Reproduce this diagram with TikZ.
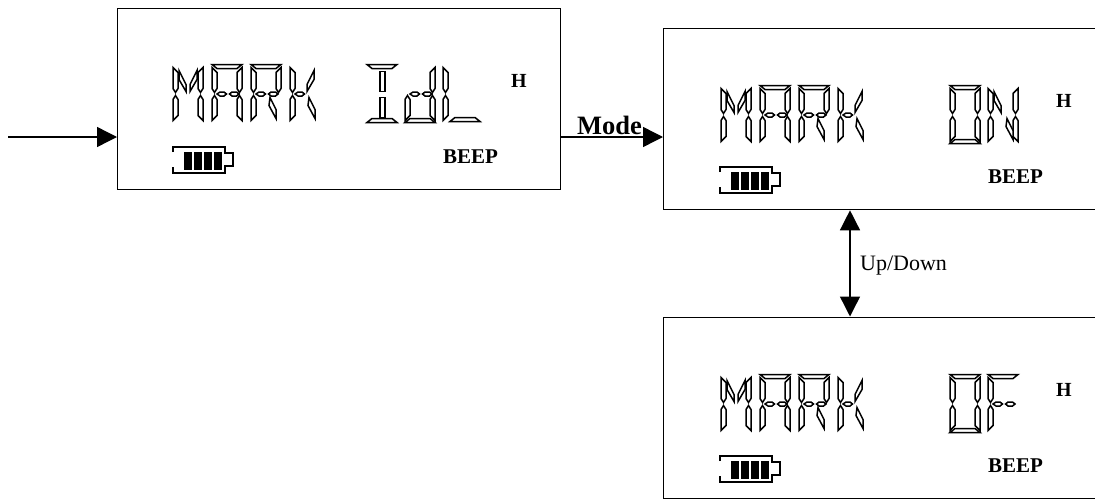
\documentclass[tikz,border=0pt]{standalone}
\usepackage{fontspec}
\setmainfont{Liberation Serif}
\usetikzlibrary{arrows.meta}
\tikzset{
 panel/.style={draw, line width=1.3pt, anchor=north west, minimum width=#1, minimum height=181pt, inner sep=0},
 flow/.style={line width=1.4pt, -{Triangle[length=20pt,width=20pt]}},
 bothflow/.style={line width=1.4pt, {Triangle[length=20pt,width=20pt]}-{Triangle[length=20pt,width=20pt]}},
 lcdseg/.style={draw, line width=1.5pt, fill=white},
 beep/.style={font=\fontsize{21}{21}\selectfont\bfseries, inner sep=0},
 hflag/.style={font=\fontsize{20}{20}\selectfont\bfseries, inner sep=0}
}
% one piece of a display digit, 30 wide and 58 high
\def\segA{(0,0)--(30,0)--(25,4)--(5,4)--cycle}
\def\segB{(30,3)--(30,24)--(27.5,28)--(25,24)--(25,8)--cycle}
\def\segC{(27.5,31)--(30,35)--(30,56)--(25,51)--(25,35)--cycle}
\def\segD{(5,54)--(25,54)--(30,58)--(0,58)--cycle}
\def\segE{(2.5,31)--(5,35)--(5,51)--(0,56)--(0,35)--cycle}
\def\segF{(0,3)--(5,8)--(5,24)--(2.5,28)--(0,24)--cycle}
\def\segG{(5,29.5)--(8,27.5)--(12,27.5)--(14.5,29.5)--(12,31.5)--(8,31.5)--cycle}
\def\segH{(17.5,29.5)--(20,27.5)--(24.5,27.5)--(27,29.5)--(24.5,31.5)--(20,31.5)--cycle}
\def\segI{(13,7)--(18,7)--(18,27)--(13,27)--cycle}
\def\segJ{(13,33)--(18,33)--(18,53)--(13,53)--cycle}
\def\segK{(6,6)--(13,20)--(13,27)--(6,15)--cycle}
\def\segL{(24,6)--(24,15)--(17,27)--(17,20)--cycle}
\def\segM{(19,33)--(25,45)--(25,54)--(18,41)--cycle}
\newcommand{\lcdchar}[3]{
 \begin{scope}[shift={(#1,#2)}]
 \foreach \s in {#3}
  \draw[lcdseg] \csname seg\s\endcsname;
 \end{scope}
}
\newcommand{\markword}[2]{
 \begin{scope}[shift={(#1,#2)}]
 \lcdchar{0}{0}{F,E,B,C,K,L}
 \lcdchar{39}{0}{A,B,C,E,F,G,H}
 \lcdchar{78}{0}{A,B,E,F,G,H,M}
 \lcdchar{117}{0}{F,E,G,L,M}
 \end{scope}
}
\newcommand{\battery}[2]{
 \begin{scope}[shift={(#1,#2)}]
 \draw[line width=1.4pt] (0,5)--(0,0)--(52,0)--(52,6)--(60,6)--(60,19)--(52,19)--(52,26)--(0,26)--(0,20);
 \foreach \x in {11,21,31,41}
  \fill (\x,5) rectangle ++(8,18);
 \end{scope}
}
\begin{document}
\begin{tikzpicture}[x=1pt,y=-1pt]
\useasboundingbox (0,0) rectangle (1095,498);
\node[panel=443pt] (idle) at (117,8) {};
\node[panel=460pt] (markon) at (663,28) {};
\node[panel=460pt] (markoff) at (663,316.5) {};
\coordinate (entry) at (8,137);
\coordinate (updown) at (850,263);
\draw[flow] (entry) -- (entry -| idle.west);
\draw[flow] (entry -| idle.east) -- (entry -| markon.west);
\draw[bothflow] (updown |- markon.south) -- (updown |- markoff.north);
\node[font=\fontsize{26.5}{27}\selectfont\bfseries, inner sep=0, anchor=base west] (modetext) at (577,134.5) {Mode};
\node[font=\fontsize{22}{22}\selectfont, inner sep=0, anchor=west] (updowntext) at (860,266) {Up/Down};
% first panel
\markword{173}{64.5}
\lcdchar{367}{64.5}{A,D,I,J}
\lcdchar{405}{64.5}{B,C,D,E,G,H}
\lcdchar{443}{64.5}{E,F}
\lcdchar{450}{63.5}{D}
\node[hflag] (idleh) at (519,80.5) {H};
\node[beep] (idlebeep) at (470.5,157) {BEEP};
\battery{173}{147}
% second panel
\markword{721}{85.5}
\lcdchar{950}{85.5}{A,B,C,D,E,F}
\lcdchar{988}{85.5}{B,C,E,F,K,M}
\node[hflag] (onh) at (1064,101) {H};
\node[beep] (onbeep) at (1015.5,177) {BEEP};
\battery{720}{167}
% third panel
\markword{721}{374.5}
\lcdchar{950}{374.5}{A,B,C,D,E,F}
\lcdchar{988}{374.5}{A,E,F,G,H}
\node[hflag] (offh) at (1064,390) {H};
\node[beep] (offbeep) at (1015.5,466) {BEEP};
\battery{720}{456}
\end{tikzpicture}
\end{document}
